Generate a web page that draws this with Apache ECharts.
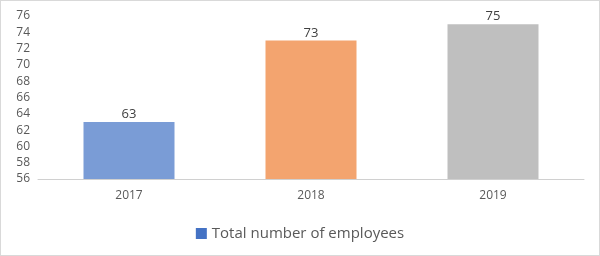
<!DOCTYPE html>
<html><head><meta charset="utf-8">
<script src="https://cdn.jsdelivr.net/npm/echarts@6/dist/echarts.min.js"></script>
<style>html,body{margin:0;padding:0;background:#fff}#c{width:600px;height:256px;box-sizing:border-box;border:1px solid #D9D9D9}</style>
</head><body><div id="c"></div>
<script>
const categories = ['2017', '2018', '2019'];
const values = [63, 73, 75];
const barColors = ['#7A9CD6', '#F3A46F', '#BFBFBF'];
const seriesName = 'Total number of employees';
const yMin = 56, yMax = 76, yStep = 2;

const chart = echarts.init(document.getElementById('c'), null, {renderer: 'canvas'});
chart.setOption({
  animation: false,
  textStyle: {fontFamily: 'Open Sans, Liberation Sans, sans-serif'},
  grid: {left: 37, right: 15, top: 15, bottom: 76},
  legend: {
    bottom: 9, left: 'center', itemWidth: 11, itemHeight: 11, itemGap: 4,
    icon: 'rect',
    textStyle: {fontSize: 15, color: '#595959'},
    data: [{name: seriesName, itemStyle: {color: '#4472C4'}}]
  },
  xAxis: {
    type: 'category', data: categories,
    axisLine: {lineStyle: {color: '#D0D0D0', width: 1}},
    axisTick: {show: false},
    axisLabel: {color: '#595959', fontSize: 12, margin: 11}
  },
  yAxis: {
    type: 'value', min: yMin, max: yMax, interval: yStep,
    axisLine: {show: false}, axisTick: {show: false}, splitLine: {show: false},
    axisLabel: {color: '#595959', fontSize: 12, margin: 8}
  },
  series: [{
    name: seriesName, type: 'bar', barWidth: '50%',
    data: values.map((v, i) => ({value: v, itemStyle: {color: barColors[i]}})),
    label: {show: true, position: 'top', color: '#404040', fontSize: 13, distance: 1}
  }]
});
</script></body></html>
